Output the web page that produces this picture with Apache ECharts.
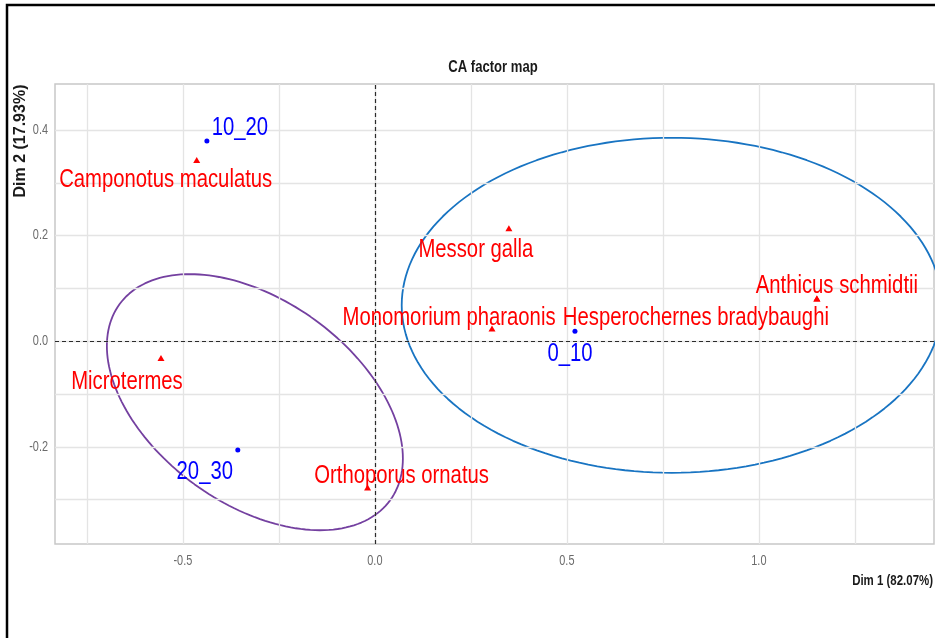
<!DOCTYPE html>
<html>
<head>
<meta charset="utf-8">
<script src="https://cdn.jsdelivr.net/npm/echarts@6/dist/echarts.min.js"></script>
<style>
html,body{margin:0;padding:0;background:#fff;}
#chart{width:935px;height:638px;}
</style>
</head>
<body>
<div id="chart"></div>
<script>
// ---- data ----
const rowNames = ['Camponotus maculatus','Messor galla','Monomorium pharaonis','Hesperochernes bradybaughi','Anthicus schmidtii','Microtermes','Orthoporus ornatus'];
const rowDim1 = [-0.464, 0.349, 0.305, 1.151, 1.151, -0.557, -0.019];
const rowDim2 = [0.343, 0.214, 0.024, 0.081, 0.081, -0.032, -0.277];
const colNames = ['0_10','10_20','20_30'];
const colDim1 = [0.521, -0.4375, -0.357];
const colDim2 = [0.019, 0.379, -0.206];
const xTicks = [-0.5, 0.0, 0.5, 1.0];
const xMinorTicks = [-0.75, -0.25, 0.25, 0.75, 1.25];
const yTicks = [-0.2, 0.0, 0.2, 0.4];
const yMinorTicks = [-0.3, -0.1, 0.1, 0.3];
// confidence ellipses: centre and covariance (Dim1, Dim2)
const ellipseBlueCenter = [0.773, 0.068];
const ellipseBlueCov = [[0.4944, 0.0], [0.0, 0.1006]];
const ellipsePurpleCenter = [-0.3125, -0.1155];
const ellipsePurpleCov = [[0.14855, -0.04104], [-0.04104, 0.05877]];

// ---- styling / layout (not data) ----
const X_MIN = -0.833, X_MAX = 1.456, Y_MIN = -0.384, Y_MAX = 0.487;
const rowLabelOffsets = [[-31,20],[-33,22],[-43,-11],[-121,19],[20,-13],[-34,24],[34,-12]];
const colLabelOffsets = [[-5,23],[33,-13],[-33,22]];
const FF = "'Liberation Sans', Arial, sans-serif";
const SQ = 0.78;           // horizontal squeeze of the reference's condensed type
const LABEL_FONT = '26px ' + FF;
const TICK_FONT = '14px ' + FF;

function ellipsePoints(center, cov){
  const l11 = Math.sqrt(cov[0][0]);
  const l21 = cov[1][0] / l11;
  const l22 = Math.sqrt(cov[1][1] - l21 * l21);
  const pts = [];
  const n = 180;
  for (let i = 0; i <= n; i++){
    const t = 2 * Math.PI * i / n;
    const c = Math.cos(t), s = Math.sin(t);
    pts.push([center[0] + l11 * c, center[1] + l21 * c + l22 * s]);
  }
  return pts;
}

const gridLineData = [];
xTicks.forEach(v => gridLineData.push({xAxis: v}));
xMinorTicks.forEach(v => gridLineData.push({xAxis: v}));
yTicks.forEach(v => gridLineData.push({yAxis: v}));
yMinorTicks.forEach(v => gridLineData.push({yAxis: v}));

function labelSeries(names, xs, ys, offsets, color){
  return {
    type: 'custom', z: 6, silent: true, clip: false,
    data: names.map((n, i) => [xs[i], ys[i]]),
    encode: {x: 0, y: 1},
    renderItem: function(params, api){
      const pt = api.coord([api.value(0), api.value(1)]);
      const off = offsets[params.dataIndex];
      return {
        type: 'text', x: pt[0] + off[0], y: pt[1] + off[1], scaleX: SQ, scaleY: 1,
        style: {text: names[params.dataIndex], font: LABEL_FONT, fill: color, align: 'center', verticalAlign: 'middle'}
      };
    }
  };
}

const chart = echarts.init(document.getElementById('chart'), null, {renderer: 'canvas'});
const option = {
  backgroundColor: '#ffffff',
  animation: false,
  grid: {left: 55, top: 84, right: 1, bottom: 94, show: true, borderColor: '#c8c8c8', borderWidth: 1.5, backgroundColor: 'transparent', containLabel: false},
  xAxis: {
    type: 'value', min: X_MIN, max: X_MAX,
    splitLine: {show: false}, axisLine: {show: false},
    axisTick: {show: true, customValues: xTicks, length: 4, lineStyle: {color: '#bdbdbd'}},
    axisLabel: {show: false}
  },
  yAxis: {
    type: 'value', min: Y_MIN, max: Y_MAX,
    splitLine: {show: false}, axisLine: {show: false},
    axisTick: {show: true, customValues: yTicks, length: 4, lineStyle: {color: '#bdbdbd'}},
    axisLabel: {show: false}
  },
  graphic: [
    {type: 'rect', shape: {x: 7, y: 5, width: 940, height: 645}, style: {fill: 'none', stroke: '#000', lineWidth: 2.5}, z: 100},
    {type: 'text', x: 493, y: 67, scaleX: 0.77, style: {text: 'CA factor map', font: 'bold 17px ' + FF, fill: '#1a1a1a', align: 'center', verticalAlign: 'middle'}},
    {type: 'text', x: 933, y: 581, scaleX: 0.79, style: {text: 'Dim 1 (82.07%)', font: 'bold 14.5px ' + FF, fill: '#1a1a1a', align: 'right', verticalAlign: 'middle'}},
    {type: 'text', x: 21, y: 141, rotation: Math.PI / 2, style: {text: 'Dim 2 (17.93%)', font: 'bold 16px ' + FF, fill: '#1a1a1a', align: 'center', verticalAlign: 'middle'}}
  ],
  series: [
    {
      type: 'line', data: [], z: 1, silent: true,
      markLine: {silent: true, symbol: ['none','none'], label: {show: false}, lineStyle: {color: '#e4e4e4', width: 1.3, type: 'solid'}, data: gridLineData, animation: false}
    },
    {
      type: 'line', data: ellipsePoints(ellipseBlueCenter, ellipseBlueCov), z: 3, silent: true, clip: true,
      showSymbol: false, symbol: 'none', lineStyle: {color: '#1874c2', width: 1.8}
    },
    {
      type: 'line', data: ellipsePoints(ellipsePurpleCenter, ellipsePurpleCov), z: 3, silent: true, clip: true,
      showSymbol: false, symbol: 'none', lineStyle: {color: '#7440a0', width: 1.8}
    },
    {
      type: 'line', data: [], z: 4, silent: true,
      markLine: {silent: true, symbol: ['none','none'], label: {show: false}, lineStyle: {color: '#2b2b2b', width: 1.2, type: [4, 3]}, data: [{xAxis: 0}, {yAxis: 0}], animation: false}
    },
    {
      type: 'scatter', z: 5, symbol: 'triangle', symbolSize: [7, 6], silent: true,
      itemStyle: {color: '#ff0000', opacity: 1},
      data: rowNames.map((n, i) => ({name: n, value: [rowDim1[i], rowDim2[i]]}))
    },
    {
      type: 'scatter', z: 5, symbol: 'circle', symbolSize: 5, silent: true,
      itemStyle: {color: '#0000ff', opacity: 1},
      data: colNames.map((n, i) => ({name: n, value: [colDim1[i], colDim2[i]]}))
    },
    labelSeries(rowNames, rowDim1, rowDim2, rowLabelOffsets, '#ff0000'),
    labelSeries(colNames, colDim1, colDim2, colLabelOffsets, '#0000ff'),
    {
      // x tick labels
      type: 'custom', z: 6, silent: true, clip: false,
      data: xTicks.map(v => [v]),
      encode: {x: 0},
      renderItem: function(params, api){
        const pt = api.coord([api.value(0), Y_MIN]);
        return {type: 'text', x: pt[0], y: pt[1] + 17, scaleX: SQ,
          style: {text: xTicks[params.dataIndex].toFixed(1), font: TICK_FONT, fill: '#6b6b6b', align: 'center', verticalAlign: 'middle'}};
      }
    },
    {
      // y tick labels
      type: 'custom', z: 6, silent: true, clip: false,
      data: yTicks.map(v => [X_MIN, v]),
      encode: {x: 0, y: 1},
      renderItem: function(params, api){
        const pt = api.coord([X_MIN, api.value(1)]);
        return {type: 'text', x: pt[0] - 7, y: pt[1], scaleX: SQ,
          style: {text: yTicks[params.dataIndex].toFixed(1), font: TICK_FONT, fill: '#6b6b6b', align: 'right', verticalAlign: 'middle'}};
      }
    }
  ]
};
chart.setOption(option);
</script>
</body>
</html>
